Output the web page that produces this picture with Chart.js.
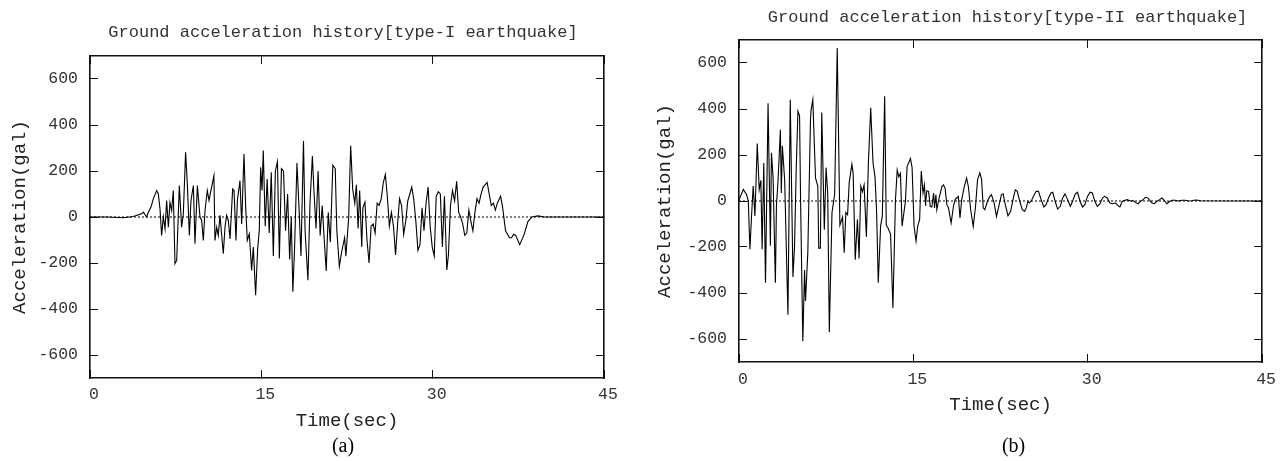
<!DOCTYPE html>
<html>
<head>
<meta charset="utf-8">
<title>Ground acceleration history</title>
<script src="https://cdn.jsdelivr.net/npm/chart.js@4.4.1/dist/chart.umd.min.js"></script>
<style>
  html, body { margin: 0; padding: 0; background: #fff; }
  #wrap { position: relative; width: 1288px; height: 461px; }
  canvas { position: absolute; top: 0; }
</style>
</head>
<body>
<div id="wrap">
  <canvas id="graficoA" width="640" height="461" style="left:0px"></canvas>
  <canvas id="graficoB" width="648" height="461" style="left:640px"></canvas>
</div>
<script>
// ---- tick labels ----
const xTicks = [0, 15, 30, 45];
const yTicks = [-600, -400, -200, 0, 200, 400, 600];

// ---- (a) type-I earthquake : time (sec) / acceleration (gal) ----
const tempoA = [
  0, 1.5, 2.9, 3.8, 4.52, 4.67, 4.96, 5.11, 5.34, 5.54,
  5.84, 5.98, 6.13, 6.27, 6.42, 6.57, 6.71, 6.86, 7.0, 7.15,
  7.29, 7.44, 7.59, 7.82, 8.02, 8.17, 8.37, 8.52, 8.7, 8.84,
  9.05, 9.19, 9.4, 9.63, 9.78, 9.92, 10.07, 10.27, 10.42, 10.56,
  10.85, 10.94, 11.09, 11.23, 11.38, 11.67, 11.82, 11.96, 12.11, 12.26,
  12.49, 12.61, 12.78, 12.9, 13.13, 13.28, 13.48, 13.63, 13.77, 13.95,
  14.15, 14.3, 14.5, 14.68, 14.82, 14.94, 15.06, 15.17, 15.34, 15.51,
  15.69, 15.87, 16.05, 16.23, 16.41, 16.58, 16.76, 16.94, 17.12, 17.3,
  17.48, 17.62, 17.76, 17.9, 18.12, 18.3, 18.47, 18.69, 18.83, 19.08,
  19.26, 19.47, 19.61, 19.79, 19.97, 20.15, 20.33, 20.51, 20.68, 20.86,
  21.04, 21.26, 21.47, 21.61, 21.83, 22.04, 22.29, 22.4, 22.65, 22.82,
  23.0, 23.18, 23.32, 23.47, 23.61, 23.79, 23.89, 24.07, 24.25, 24.43,
  24.61, 24.79, 24.96, 25.14, 25.32, 25.5, 25.68, 25.86, 26.03, 26.21,
  26.39, 26.57, 26.75, 26.93, 27.1, 27.28, 27.46, 27.64, 27.82, 28.0,
  28.17, 28.35, 28.53, 28.71, 28.89, 29.07, 29.24, 29.42, 29.6, 29.78,
  29.96, 30.14, 30.31, 30.49, 30.67, 30.85, 31.03, 31.24, 31.38, 31.56,
  31.74, 31.92, 32.1, 32.28, 32.45, 32.63, 32.81, 32.99, 33.17, 33.35,
  33.52, 33.7, 33.88, 34.06, 34.24, 34.42, 34.77, 34.95, 35.13, 35.31,
  35.49, 35.66, 35.95, 36.13, 36.38, 36.73, 36.91, 37.09, 37.27, 37.62,
  37.98, 38.34, 38.69, 39.23, 39.76, 45
];
const aceleracaoA = [
  0, 0, -3, 2, 14, 21, 0, 21, 43, 79,
  115, 101, 35, -80, 0, -51, 72, -44, 64, 28,
  115, -203, -189, 137, -44, 14, 281, 144, -80, 72,
  137, -116, 137, 0, -15, -102, 28, 115, 72, 108,
  180, -102, -44, -80, 7, -160, -44, 7, -15, -95,
  122, 115, -102, 72, 158, -30, 274, 43, -102, -73,
  -232, -131, -340, -138, -59, 216, 115, 289, -40, 165,
  -70, 195, -170, 200, 240, -180, 210, 200, -60, 100,
  -185, 0, -325, -150, 235, 40, -170, 330, -60, -275,
  60, 265, 110, -50, 200, -80, 50, -100, -235, 20,
  -110, 225, 210, -60, -215, -150, -90, -170, 0, 310,
  120, 60, 140, -50, 115, -130, 40, 65, -100, -200,
  -40, -30, -70, 60, 50, 80, 150, 185, 90, -40,
  20, -40, -165, -30, 80, 50, -75, -20, 70, 100,
  130, 75, -20, -145, -120, 40, -60, 60, 130, -40,
  -130, -170, 90, 110, 100, -130, 90, -230, -165, 50,
  115, 70, 155, 20, 0, -30, -80, -70, 30, -20,
  -60, 20, 80, 60, 100, 130, 150, 100, 50, 60,
  30, 60, 90, 40, -60, -90, -90, -75, -80, -120,
  -80, -20, 0, 5, 0, 0
];

// ---- (b) type-II earthquake ----
const tempoB = [
  0, 0.37, 0.65, 0.8, 0.94, 1.08, 1.22, 1.37, 1.57, 1.74,
  1.88, 1.99, 2.13, 2.28, 2.5, 2.7, 2.79, 2.93, 3.13, 3.22,
  3.36, 3.56, 3.64, 3.73, 3.93, 4.21, 4.41, 4.64, 4.78, 4.92,
  5.07, 5.21, 5.3, 5.49, 5.64, 5.72, 5.92, 6.15, 6.2, 6.35,
  6.58, 6.78, 6.86, 7.0, 7.12, 7.34, 7.49, 7.63, 7.77, 8.0,
  8.23, 8.45, 8.68, 8.91, 9.05, 9.19, 9.34, 9.48, 9.71, 9.82,
  10.0, 10.19, 10.33, 10.48, 10.62, 10.76, 10.96, 11.13, 11.33, 11.53,
  11.7, 11.84, 11.98, 12.18, 12.33, 12.53, 12.67, 12.84, 13.04, 13.24,
  13.46, 13.61, 13.75, 13.89, 14.03, 14.32, 14.46, 14.75, 14.89, 15.06,
  15.23, 15.37, 15.54, 15.68, 15.83, 15.95, 16.05, 16.15, 16.31, 16.45,
  16.59, 16.74, 16.82, 16.94, 17.02, 17.16, 17.45, 17.59, 17.73, 17.88,
  18.02, 18.25, 18.45, 18.59, 18.73, 18.87, 19.01, 19.16, 19.38, 19.58,
  19.73, 19.93, 20.15, 20.35, 20.52, 20.72, 20.87, 21.01, 21.15, 21.38,
  21.58, 21.72, 21.95, 22.15, 22.35, 22.57, 22.72, 22.91, 23.14, 23.37,
  23.57, 23.77, 23.94, 24.14, 24.37, 24.57, 24.71, 24.85, 24.99, 25.14,
  25.36, 25.56, 25.76, 25.99, 26.22, 26.42, 26.62, 26.84, 26.99, 27.19,
  27.41, 27.64, 27.84, 28.04, 28.27, 28.5, 28.69, 28.92, 29.12, 29.35,
  29.55, 29.75, 29.98, 30.2, 30.4, 30.6, 30.83, 31.06, 31.26, 31.46,
  31.68, 31.91, 32.11, 32.4, 32.6, 32.77, 32.96, 33.16, 33.39, 33.68,
  33.9, 34.1, 34.33, 34.53, 34.76, 34.96, 35.16, 35.33, 35.53, 35.73,
  35.95, 36.18, 36.38, 36.58, 36.81, 37.04, 37.24, 37.52, 37.8, 38.09,
  38.37, 38.66, 38.94, 39.23, 39.51, 39.71, 45
];
const aceleracaoB = [
  5, 50, 28, 0, -210, -65, 65, -65, 250, 50,
  90, -210, 165, -355, 425, -195, 210, 105, -355, -20,
  90, 310, 35, 240, 90, -495, 440, -330, -195, 135,
  390, 370, -10, -610, -300, -435, -225, 355, 395, 440,
  100, 65, -205, -205, 385, -125, 145, 35, -570, -50,
  30, 665, -105, -70, -225, -50, -60, 80, 160, 120,
  -255, -80, -250, 65, 40, 70, -155, 165, 405, 165,
  105, -50, -355, -110, -65, 455, -105, -120, -145, -465,
  5, 135, 105, 120, -110, 0, 150, 185, 145, -110,
  -175, -110, -80, 130, 35, 70, -20, 45, 42, -23,
  -26, 35, -30, 27, -38, 0, 63, 70, 56, -16,
  -30, -96, -23, 6, 13, 20, -74, 6, 63, 100,
  63, -38, -110, -23, 93, 122, 93, -30, -38, 0,
  20, 27, -9, -67, -23, 27, 31, -16, -64, -45,
  6, 49, 42, 0, -38, -45, -30, -2, -8, 0,
  23, 42, 42, 6, -26, -16, 13, 35, 38, 0,
  -35, -23, 13, 31, 6, -23, -2, 30, 38, -2,
  -26, -16, 20, 38, 35, 0, -23, -12, 13, 20,
  13, -9, -12, -9, -20, -26, -2, 2, 6, 0,
  2, -6, -12, -2, 6, 16, 13, 3, -9, -12,
  -2, 6, 13, 3, -12, -2, 3, 3, 0, 3,
  3, 0, 1, 4, 3, 1, 0
];

const MONO = "'Liberation Mono', 'Courier New', monospace";
const SERIF = "'Liberation Serif', 'Times New Roman', serif";
const TXT = "#333";
const PRETO = "#111";

// inner tick marks on all four sides (gnuplot style)
function grade() {
  return { drawOnChartArea: false, drawTicks: true, tickLength: -8, color: PRETO, lineWidth: 1 };
}
function borda() {
  return { display: true, color: PRETO, width: 1.6 };
}

// title above the plot and the (a)/(b) caption below, placed from the chart area
const rotulos = {
  id: "rotulos",
  afterDraw(chart, args, o) {
    const { ctx, chartArea } = chart;
    const meio = (chartArea.left + chartArea.right) / 2;
    ctx.save();
    ctx.textAlign = "center";
    ctx.textBaseline = "middle";
    ctx.fillStyle = TXT;
    ctx.font = "17px " + MONO;
    ctx.fillText(o.titulo, meio + o.dxTitulo, o.yTitulo);
    ctx.fillStyle = "#000";
    ctx.font = "20px " + SERIF;
    ctx.fillText(o.legenda, meio + o.dxLegenda, o.yLegenda);
    ctx.restore();
  }
};

function criarGrafico(id, tempos, valores, L) {
  const ctx = document.getElementById(id).getContext("2d");
  const pontos = tempos.map((t, i) => ({ x: t, y: valores[i] }));

  return new Chart(ctx, {
    type: "line",
    data: {
      datasets: [
        {
          data: pontos,
          borderColor: "#000",
          borderWidth: 1.1,
          pointRadius: 0,
          tension: 0,
          order: 1
        },
        {
          // dotted zero line
          data: [{ x: 0, y: 0 }, { x: 45, y: 0 }],
          borderColor: "#000",
          borderWidth: 1,
          borderDash: [2, 2],
          pointRadius: 0,
          order: 2
        }
      ]
    },
    plugins: [rotulos],
    options: {
      responsive: false,
      animation: false,
      devicePixelRatio: 1,
      layout: { padding: { left: 0, right: L.padDir, top: L.padTopo, bottom: 23 } },
      plugins: {
        legend: { display: false },
        tooltip: { enabled: false },
        title: { display: false },
        rotulos: L.rotulos
      },
      scales: {
        x: {
          type: "linear",
          position: "bottom",
          min: 0,
          max: 45,
          afterBuildTicks: s => { s.ticks = xTicks.map(v => ({ value: v })); },
          ticks: { color: TXT, font: { family: MONO, size: 16.5 }, padding: L.xPad, labelOffset: 4, maxRotation: 0 },
          grid: grade(),
          border: borda(),
          title: {
            display: true,
            text: "Time(sec)",
            color: "#222",
            font: { family: MONO, size: 19 },
            padding: { top: 0, bottom: L.xTituloBottom }
          },
          afterFit: s => { s.height = L.xAltura; }
        },
        x2: {
          type: "linear",
          position: "top",
          min: 0,
          max: 45,
          afterBuildTicks: s => { s.ticks = xTicks.map(v => ({ value: v })); },
          ticks: { display: false },
          grid: grade(),
          border: borda(),
          afterFit: s => { s.height = 0; }
        },
        y: {
          type: "linear",
          position: "left",
          min: -700,
          max: 700,
          afterBuildTicks: s => { s.ticks = yTicks.map(v => ({ value: v })); },
          ticks: { color: TXT, font: { family: MONO, size: 16.5 }, padding: L.yPad },
          grid: grade(),
          border: borda(),
          title: {
            display: true,
            text: "Acceleration(gal)",
            color: "#222",
            font: { family: MONO, size: 19 },
            padding: { top: L.yTituloTop, bottom: 0 }
          },
          afterFit: s => { s.width = L.yLargura; }
        },
        y2: {
          type: "linear",
          position: "right",
          min: -700,
          max: 700,
          afterBuildTicks: s => { s.ticks = yTicks.map(v => ({ value: v })); },
          ticks: { display: false },
          grid: grade(),
          border: borda(),
          afterFit: s => { s.width = 0; }
        }
      }
    }
  });
}

criarGrafico("graficoA", tempoA, aceleracaoA, {
  padDir: 36, padTopo: 56, xAltura: 60, xPad: 15, xTituloBottom: 5.6, yLargura: 90, yPad: 20, yTituloTop: 8.6,
  rotulos: { titulo: "Ground acceleration history[type-I earthquake]", dxTitulo: -4, yTitulo: 32,
             legenda: "(a)", dxLegenda: -4, yLegenda: 447 }
});

criarGrafico("graficoB", tempoB, aceleracaoB, {
  padDir: 22, padTopo: 40, xAltura: 76, xPad: 16, xTituloBottom: 21.6, yLargura: 99, yPad: 20, yTituloTop: 13.6,
  rotulos: { titulo: "Ground acceleration history[type-II earthquake]", dxTitulo: 7, yTitulo: 17,
             legenda: "(b)", dxLegenda: 13, yLegenda: 447 }
});
</script>
</body>
</html>
